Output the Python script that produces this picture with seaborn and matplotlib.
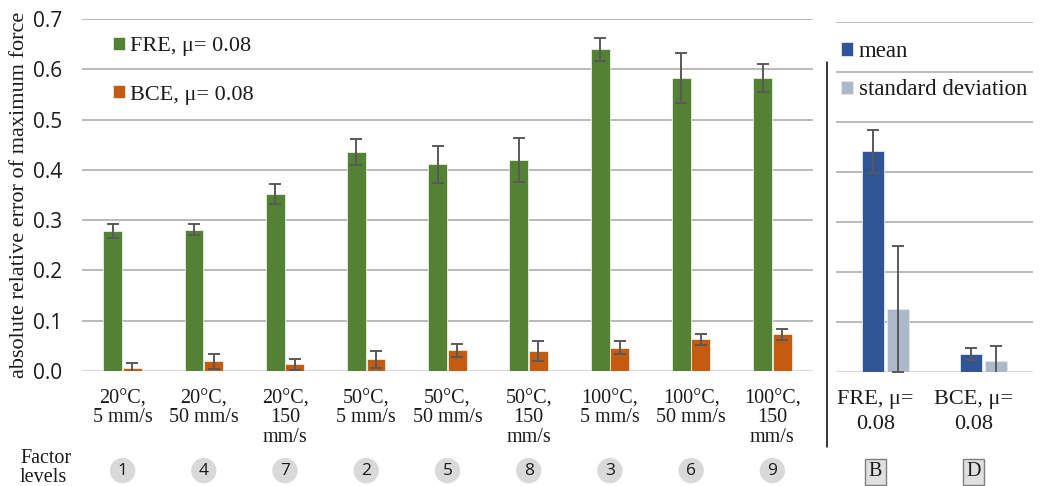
"""
Absolute relative error of maximum force: FRE vs BCE per factor level,
plus mean / standard deviation summary on the right.
"""
import numpy as np
import pandas as pd
import matplotlib
matplotlib.use('Agg')
import matplotlib.pyplot as plt
import matplotlib.transforms as mtransforms
import seaborn as sns

# ---- data ----
conditions = ['20°C,\n5 mm/s', '20°C,\n50 mm/s', '20°C,\n150\nmm/s',
              '50°C,\n5 mm/s', '50°C,\n50 mm/s', '50°C,\n150\nmm/s',
              '100°C,\n5 mm/s', '100°C,\n50 mm/s', '100°C,\n150\nmm/s']
factor_levels = ['1', '4', '7', '2', '5', '8', '3', '6', '9']
methods = ['FRE, μ= 0.08', 'BCE, μ= 0.08']
fre_values = [0.278, 0.281, 0.352, 0.435, 0.411, 0.420, 0.640, 0.583, 0.582]
fre_errors = [0.0135, 0.011, 0.0205, 0.026, 0.037, 0.044, 0.023, 0.050, 0.028]
bce_values = [0.006, 0.019, 0.013, 0.023, 0.041, 0.039, 0.046, 0.063, 0.073]
bce_errors = [0.010, 0.015, 0.011, 0.017, 0.013, 0.020, 0.013, 0.0105, 0.0115]

models = ['FRE, μ=\n0.08', 'BCE, μ=\n0.08']
model_tags = ['B', 'D']
stats = ['mean', 'standard deviation']
mean_values = [0.441, 0.035]
mean_errors = [0.043, 0.012]
std_values = [0.126, 0.022]
std_errors = [0.126, 0.030]

y_ticks = [0.0, 0.1, 0.2, 0.3, 0.4, 0.5, 0.6, 0.7]

# ---- style ----
sns.set_style('white')
plt.rcParams['font.family'] = ['Liberation Serif', 'DejaVu Serif']
TEXT = '#1a1a1a'
GRID = '#b4b4b4'
BASE = '#d9d9d9'
ERR = '#595959'

df_left = pd.DataFrame({
    'condition': conditions * 2,
    'method': [methods[0]] * len(conditions) + [methods[1]] * len(conditions),
    'value': fre_values + bce_values,
    'err': fre_errors + bce_errors,
})
df_right = pd.DataFrame({
    'model': models * 2,
    'stat': [stats[0]] * 2 + [stats[1]] * 2,
    'value': mean_values + std_values,
    'err': mean_errors + std_errors,
})

fig = plt.figure(figsize=(10.4, 4.86), dpi=100)
ax = fig.add_axes([0.0788, 0.2366, 0.7029, 0.7243])
ax2 = fig.add_axes([0.8038, 0.2346, 0.1894, 0.7202])


def draw_errors(axis, df, hue_col, levels):
    for container, level in zip(axis.containers, levels):
        sub = df[df[hue_col] == level]
        xs = [p.get_x() + p.get_width() / 2 for p in container]
        axis.errorbar(xs, sub['value'].values, yerr=sub['err'].values, fmt='none',
                      ecolor=ERR, elinewidth=1.4, capsize=4, capthick=1.4, zorder=4)


def style_axis(axis):
    axis.set_ylim(0, 0.7)
    axis.set_yticks(y_ticks)
    axis.yaxis.grid(True, color=GRID, linewidth=1.3, zorder=0)
    axis.set_axisbelow(True)
    axis.axhline(0, color=BASE, linewidth=2.2, zorder=1)
    sns.despine(ax=axis, left=True, bottom=True)
    axis.set_xlabel('')
    axis.tick_params(axis='both', length=0)


# ---- left panel ----
sns.barplot(data=df_left, x='condition', y='value', hue='method', order=conditions,
            hue_order=methods, palette=['#548235', '#C55A11'], saturation=1,
            width=0.48, gap=0.03, errorbar=None, edgecolor='#e8eee4', linewidth=0.6,
            ax=ax, zorder=2)
draw_errors(ax, df_left, 'method', methods)
style_axis(ax)
ax.set_xlim(-0.5, len(conditions) - 0.5)
ax.set_ylabel('absolute relative error of maximum force', fontsize=16, color=TEXT, labelpad=3)
ax.set_yticklabels([f'{t:.1f}' for t in y_ticks], family='Open Sans', fontsize=15, color=TEXT)
ax.tick_params(axis='y', pad=14)
ax.tick_params(axis='x', pad=13)
for lbl in ax.get_xticklabels():
    lbl.set_fontsize(14.5)
    lbl.set_linespacing(1.02)
    lbl.set_color(TEXT)

h, l = ax.get_legend_handles_labels()
ax.legend(h, l, loc='upper left', bbox_to_anchor=(0.042, 0.95), frameon=False,
          fontsize=16, handlelength=0.55, handleheight=0.55, handletextpad=0.25,
          labelspacing=1.3, borderpad=0, borderaxespad=0, labelcolor=TEXT)

# factor level circles
for i, lev in enumerate(factor_levels):
    ax.text(i, -0.283, lev, transform=ax.get_xaxis_transform(), ha='center', va='center',
            family='Open Sans', fontsize=12.5, color=TEXT,
            bbox=dict(boxstyle='circle,pad=0.27', fc='#d9d9d9', ec='none'))
fig.text(20 / 1040, 1 - 468 / 486, 'Factor\nlevels', ha='left', va='center',
         fontsize=14.5, color=TEXT, linespacing=1.05)

# ---- right panel ----
sns.barplot(data=df_right, x='model', y='value', hue='stat', order=models,
            hue_order=stats, palette=['#2F5597', '#ADB9CA'], saturation=1,
            width=0.51, gap=0.12, errorbar=None, edgecolor='#e3e8f0', linewidth=0.6,
            ax=ax2, zorder=2)
draw_errors(ax2, df_right, 'stat', stats)
style_axis(ax2)
ax2.set_xlim(-0.5, len(models) - 0.5)
ax2.set_ylabel('')
ax2.set_yticklabels([])
ax2.tick_params(axis='x', pad=13)
shift = mtransforms.ScaledTranslation(-10 / 100, 0, fig.dpi_scale_trans)
for lbl in ax2.get_xticklabels():
    lbl.set_fontsize(16)
    lbl.set_linespacing(1.45)
    lbl.set_color(TEXT)
    lbl.set_transform(lbl.get_transform() + shift)

h2, l2 = ax2.get_legend_handles_labels()
ax2.legend(h2, l2, loc='upper left', bbox_to_anchor=(0.025, 0.945), frameon=False,
           fontsize=16.5, handlelength=0.52, handleheight=0.52, handletextpad=0.25,
           labelspacing=0.75, borderpad=0, borderaxespad=0, labelcolor=TEXT)

for i, tag in enumerate(model_tags):
    ax2.text(i, -0.285, tag, transform=ax2.get_xaxis_transform() + shift,
             ha='center', va='center', fontsize=14.5, color=TEXT,
             bbox=dict(boxstyle='square,pad=0.18', fc='#e0e0e0', ec='#7f7f7f', lw=1))

# separator between the two panels
fig.add_artist(plt.Line2D([827 / 1040, 827 / 1040], [1 - 62 / 486, 1 - 447 / 486],
                          transform=fig.transFigure, color='black', linewidth=1.1))

fig.savefig('out.png', dpi=100)
